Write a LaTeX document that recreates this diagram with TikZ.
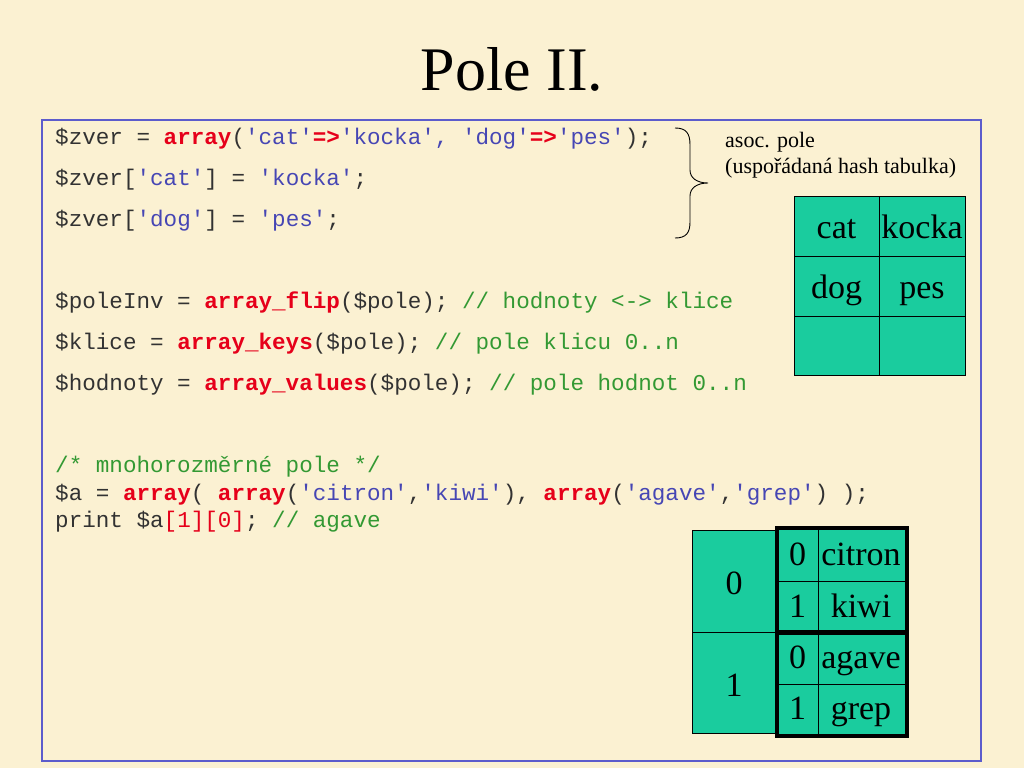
\documentclass[tikz,border=0pt]{standalone}
\usepackage{fontspec}
\setmainfont{Liberation Serif}
\setmonofont{Liberation Mono}
\definecolor{bg}{RGB}{251,241,210}
\definecolor{frameblue}{RGB}{92,92,204}
\definecolor{teal2}{RGB}{26,204,158}
\definecolor{kwred}{RGB}{230,0,26}
\definecolor{strblue}{RGB}{70,70,180}
\definecolor{cmgreen}{RGB}{51,153,51}
\definecolor{codegray}{RGB}{50,50,50}
\newcommand\kw[1]{\textcolor{kwred}{\textbf{#1}}}
\newcommand\st[1]{\textcolor{strblue}{#1}}
\newcommand\cm[1]{\textcolor{cmgreen}{#1}}
\begin{document}
\begin{tikzpicture}[x=1pt,y=-1pt,
  code/.style={anchor=base west,inner sep=0,text=codegray,font=\ttfamily\fontsize{22.6}{26}\selectfont},
  note/.style={anchor=base west,inner sep=0,font=\fontsize{22}{26}\selectfont},
  cell/.style={draw=black,line width=0.8pt,fill=teal2,anchor=north west,inner sep=0},
  celltext/.style={anchor=base,inner sep=0,font=\fontsize{34}{40}\selectfont},
  thickbox/.style={draw=black,line width=4pt}]
\path[fill=bg] (0,0) rectangle (1024,768);
\node[anchor=base,inner sep=0,font=\fontsize{62}{70}\selectfont] (title) at (512,90) {Pole II.};
\draw[frameblue,line width=1.2pt] (42,120) rectangle (981,761);
% code
\node[code] (l1) at (55,144) {\$zver = \kw{array}(\st{'cat'}\kw{=>}\st{'kocka', 'dog'}\kw{=>}\st{'pes'});};
\node[code] (l2) at (55,185) {\$zver[\st{'cat'}] = \st{'kocka'};};
\node[code] (l3) at (55,226) {\$zver[\st{'dog'}] = \st{'pes'};};
\node[code] (l4) at (55,308) {\$poleInv = \kw{array\_flip}(\$pole); \cm{// hodnoty <-> klice}};
\node[code] (l5) at (55,349) {\$klice = \kw{array\_keys}(\$pole); \cm{// pole klicu 0..n}};
\node[code] (l6) at (55,390) {\$hodnoty = \kw{array\_values}(\$pole); \cm{// pole hodnot 0..n}};
\node[code] (l7) at (55,472) {\cm{/* mnohorozměrné pole */}};
\node[code] (l8) at (55,500) {\$a = \kw{array}( \kw{array}(\st{'citron'},\st{'kiwi'}), \kw{array}(\st{'agave'},\st{'grep'}) );};
\node[code] (l9) at (55,527) {print \$a\textcolor{kwred}{[1][0]}; \cm{// agave}};
% brace
\draw[line width=0.9pt] (675,128) .. controls (686,128) and (690,133) .. (690,145) -- (690,170)
  .. controls (690,178) and (697,183) .. (708,183)
  .. controls (697,183) and (690,188) .. (690,196) -- (690,222)
  .. controls (690,233) and (686,238) .. (675,238);
\node[note] (n1) at (725,147) {asoc. pole};
\node[note] (n2) at (725,173) {(uspořádaná hash tabulka)};
% table 1
\node[cell,minimum width=85pt,minimum height=60pt] (a11) at (794,196) {};
\node[cell,minimum width=86pt,minimum height=60pt] (a12) at (879,196) {};
\node[cell,minimum width=85pt,minimum height=60pt] (a21) at (794,256) {};
\node[cell,minimum width=86pt,minimum height=60pt] (a22) at (879,256) {};
\node[cell,minimum width=85pt,minimum height=59pt] (a31) at (794,316) {};
\node[cell,minimum width=86pt,minimum height=59pt] (a32) at (879,316) {};
\node[celltext] (tcat) at (836.5,238) {cat};
\node[celltext] (tkocka) at (922,238) {kocka};
\node[celltext] (tdog) at (836.5,298) {dog};
\node[celltext] (tpes) at (922,298) {pes};
% table 2
\node[cell,minimum width=84pt,minimum height=102pt] (b0) at (692,530) {};
\node[cell,minimum width=84pt,minimum height=101pt] (b1) at (692,632) {};
\node[cell,minimum width=41pt,minimum height=53pt] (c00) at (777,528) {};
\node[cell,minimum width=88pt,minimum height=53pt] (c01) at (818,528) {};
\node[cell,minimum width=41pt,minimum height=51pt] (c10) at (777,581) {};
\node[cell,minimum width=88pt,minimum height=51pt] (c11) at (818,581) {};
\node[cell,minimum width=41pt,minimum height=52pt] (c20) at (777,632) {};
\node[cell,minimum width=88pt,minimum height=52pt] (c21) at (818,632) {};
\node[cell,minimum width=41pt,minimum height=51pt] (c30) at (777,684) {};
\node[cell,minimum width=88pt,minimum height=51pt] (c31) at (818,684) {};
\draw[thickbox] (c00.north west) rectangle (c11.south east);
\draw[thickbox] (c20.north west) rectangle (c31.south east);
\node[celltext] (t0) at (734,594) {0};
\node[celltext] (t1) at (734,696) {1};
\node[celltext] (u00) at (797.5,565) {0};
\node[celltext] (u01) at (861,565) {citron};
\node[celltext] (u10) at (797.5,617) {1};
\node[celltext] (u11) at (861,617) {kiwi};
\node[celltext] (u20) at (797.5,668) {0};
\node[celltext] (u21) at (861,668) {agave};
\node[celltext] (u30) at (797.5,719) {1};
\node[celltext] (u31) at (861,719) {grep};
\end{tikzpicture}
\end{document}
